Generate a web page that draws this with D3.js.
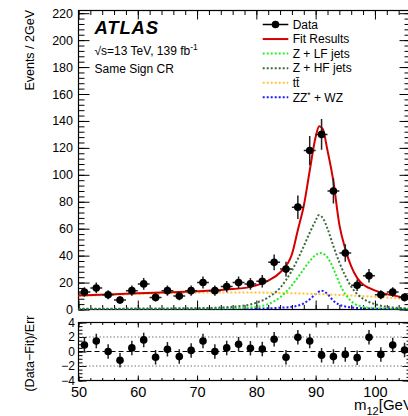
<!DOCTYPE html>
<html>
<head>
<meta charset="utf-8">
<script src="https://cdn.jsdelivr.net/npm/d3@7"></script>
<style>
  html, body { margin: 0; padding: 0; background: #fff; }
  svg { display: block; }
  text { font-family: "Liberation Sans", Arial, Helvetica, sans-serif; fill: #000; }
</style>
</head>
<body>
<svg id="chart" width="408" height="416"></svg>
<script>
// ---- measured data: dilepton mass bins (2 GeV wide) ----
const binCentres = [51, 53, 55, 57, 59, 61, 63, 65, 67, 69, 71, 73, 75, 77,
                    79, 81, 83, 85, 87, 89, 91, 93, 95, 97, 99, 101, 103, 105];
const eventCounts = [13, 16, 11, 7, 14, 19, 9, 14, 10, 14, 20, 14, 17, 20,
                     19, 21, 35, 30, 76, 118, 130, 88, 42, 18, 25, 11, 13, 9];
const pulls = [0.9, 1.45, 0.0, -1.2, 0.5, 1.6, -0.8, 0.3, -0.7, 0.15, 1.45, 0.0, 0.5, 1.0,
               0.45, 0.35, 1.7, -0.8, 1.95, 1.45, -0.5, -0.7, -0.4, -0.85, 1.95, -0.4, 0.9, 0.2];

// ---- fitted model and its components, sampled along m12 ----
const fitMass   = [50, 55, 60, 65, 70, 75, 79, 82, 84, 86, 87, 88, 89, 90, 90.6, 91.2, 92, 93, 94, 95, 96, 97, 98, 99, 101, 103, 106];
const fitValues = [10.4, 11.2, 12.0, 12.8, 13.5, 14.8, 16.8, 21.5, 27.5, 41, 59, 77, 103, 128, 136, 134, 118, 95, 63, 45, 32, 23.5, 18.5, 16, 12.5, 10.5, 8];

const ttMass   = [50, 55, 60, 65, 70, 75, 80, 85, 90, 95, 100, 106];
const ttValues = [10.1, 10.8, 11.5, 12.1, 12.5, 12.7, 12.6, 12.2, 11.5, 10.6, 9.4, 7.6];

const lfMass   = [50, 60, 70, 76, 80, 82, 84, 86, 88, 89, 90, 90.8, 91.6, 92.5, 93.5, 94.5, 95.5, 96.5, 98, 100, 106];
const lfValues = [0.3, 0.4, 0.6, 0.9, 2.0, 4.0, 9, 18, 30, 36, 40.5, 42, 40.5, 35, 25, 15, 8.5, 4.5, 2, 1, 0.4];

const hfMass   = [50, 60, 70, 76, 80, 82, 84, 86, 88, 89, 90, 90.5, 91.2, 92, 93, 94, 95, 96, 97, 98, 100, 102, 106];
const hfValues = [0.5, 0.7, 1.0, 2.0, 5, 9, 16, 29, 47, 57, 66, 70, 68, 60, 47, 35, 25, 17, 11.5, 8, 4, 2, 0.8];

const dbMass   = [50, 70, 80, 84, 86, 88, 89, 90, 91, 92, 93, 94, 95, 97, 100, 106];
const dbValues = [0.3, 0.4, 0.7, 1.3, 2, 4.5, 7.5, 11.5, 14, 11.5, 6.5, 3.5, 2.2, 1.2, 0.6, 0.3];

// ---- axis ticks ----
const xMajorTicks = [50, 60, 70, 80, 90, 100];
const yMajorTicks = [0, 20, 40, 60, 80, 100, 120, 140, 160, 180, 200, 220];
const pullTicks   = [-4, -2, 0, 2, 4];

// ---- legend entries ----
const legendLabels = ["Data", "Fit Results", "Z + LF jets", "Z + HF jets", "tt\u0304", "ZZ* + WZ"];

// ---------------------------------------------------------------
const svg = d3.select("#chart");
const FONT = '"Liberation Sans", Arial, Helvetica, sans-serif';

const L = 78.5, R = 410.5;
const T1 = 10.5, B1 = 309.5;     // main pad
const T2 = 322.5, B2 = 380.5;    // pull pad

const x  = d3.scaleLinear().domain([50, 106]).range([L, R]);
const y  = d3.scaleLinear().domain([0, 222]).range([B1, T1]);
const yp = d3.scaleLinear().domain([-4, 4]).range([B2, T2]);

const range = (a, b, s) => d3.range(a, b + s / 2, s);

// clip paths for both pads
const defs = svg.append("defs");
defs.append("clipPath").attr("id", "mainClip")
  .append("rect").attr("x", L).attr("y", T1).attr("width", R - L).attr("height", B1 - T1);
defs.append("clipPath").attr("id", "pullClip")
  .append("rect").attr("x", L).attr("y", T2).attr("width", R - L).attr("height", B2 - T2);

function styleAxis(g, fontSize) {
  g.select(".domain").remove();
  g.selectAll(".tick line").attr("stroke", "#000").attr("stroke-width", 1);
  g.selectAll(".tick text").attr("font-family", FONT).attr("font-size", fontSize).attr("fill", "#000");
}

function addAxis(axis, tx, ty, fontSize) {
  const g = svg.append("g").attr("transform", `translate(${tx},${ty})`).call(axis);
  styleAxis(g, fontSize || 12);
  return g;
}

// ---------------- main pad ----------------
// minor ticks
addAxis(d3.axisBottom(x).tickValues(range(50, 106, 2)).tickSizeInner(-4.5).tickSizeOuter(0).tickFormat(""), 0, B1);
addAxis(d3.axisTop(x).tickValues(range(50, 106, 2)).tickSizeInner(-4.5).tickSizeOuter(0).tickFormat(""), 0, T1);
addAxis(d3.axisLeft(y).tickValues(range(0, 220, 4)).tickSizeInner(-6).tickSizeOuter(0).tickFormat(""), L, 0);
addAxis(d3.axisRight(y).tickValues(range(0, 220, 4)).tickSizeInner(-6).tickSizeOuter(0).tickFormat(""), R, 0);
// major ticks
addAxis(d3.axisBottom(x).tickValues(xMajorTicks).tickSizeInner(-9).tickSizeOuter(0).tickFormat(""), 0, B1);
addAxis(d3.axisTop(x).tickValues(xMajorTicks).tickSizeInner(-9).tickSizeOuter(0).tickFormat(""), 0, T1);
addAxis(d3.axisLeft(y).tickValues(yMajorTicks).tickSizeInner(-11).tickSizeOuter(0).tickPadding(5.5).tickFormat(d3.format("d")), L, 0, "12.5px");
addAxis(d3.axisRight(y).tickValues(yMajorTicks).tickSizeInner(-11).tickSizeOuter(0).tickFormat(""), R, 0);

svg.append("rect").attr("x", L).attr("y", T1).attr("width", R - L).attr("height", B1 - T1)
  .attr("fill", "none").attr("stroke", "#000").attr("stroke-width", 1.2);

// model curves
const mainLayer = svg.append("g").attr("clip-path", "url(#mainClip)");
function drawCurve(xs, vs, colour, width, dash) {
  const pts = xs.map((m, i) => [m, vs[i]]);
  const line = d3.line().x(d => x(d[0])).y(d => y(d[1])).curve(d3.curveMonotoneX);
  mainLayer.append("path").attr("d", line(pts))
    .attr("fill", "none").attr("stroke", colour).attr("stroke-width", width)
    .attr("stroke-dasharray", dash || null);
}
const COL = { fit: "#d40000", lf: "#22ee22", hf: "#3d6b3d", tt: "#ffc23a", db: "#1a1aff" };
drawCurve(dbMass, dbValues, COL.db, 2, "2,2");
drawCurve(ttMass, ttValues, COL.tt, 2, "2,2");
drawCurve(lfMass, lfValues, COL.lf, 2, "2,2");
drawCurve(hfMass, hfValues, COL.hf, 2, "2,2");
drawCurve(fitMass, fitValues, COL.fit, 2);

// data points with Poisson error bars
const dataG = mainLayer.append("g");
binCentres.forEach((m, i) => {
  const n = eventCounts[i], e = Math.sqrt(n);
  dataG.append("line").attr("x1", x(m - 1)).attr("x2", x(m + 1)).attr("y1", y(n)).attr("y2", y(n))
    .attr("stroke", "#222").attr("stroke-width", 1.5);
  dataG.append("line").attr("x1", x(m)).attr("x2", x(m)).attr("y1", y(n - e)).attr("y2", y(n + e))
    .attr("stroke", "#222").attr("stroke-width", 1.5);
  dataG.append("circle").attr("cx", x(m)).attr("cy", y(n)).attr("r", 3.8).attr("fill", "#000");
});

// ---------------- pull pad ----------------
addAxis(d3.axisBottom(x).tickValues(range(50, 106, 2)).tickSizeInner(-2.5).tickSizeOuter(0).tickFormat(""), 0, B2);
addAxis(d3.axisTop(x).tickValues(range(50, 106, 2)).tickSizeInner(-2.5).tickSizeOuter(0).tickFormat(""), 0, T2);
addAxis(d3.axisBottom(x).tickValues(xMajorTicks).tickSizeInner(-5).tickSizeOuter(0).tickPadding(6).tickFormat(d3.format("d")), 0, B2, "14.5px");
addAxis(d3.axisTop(x).tickValues(xMajorTicks).tickSizeInner(-5).tickSizeOuter(0).tickFormat(""), 0, T2);
addAxis(d3.axisLeft(yp).tickValues(range(-4, 4, 0.5)).tickSizeInner(-4).tickSizeOuter(0).tickFormat(""), L, 0);
addAxis(d3.axisRight(yp).tickValues(range(-4, 4, 0.5)).tickSizeInner(-4).tickSizeOuter(0).tickFormat(""), R, 0);
addAxis(d3.axisLeft(yp).tickValues(pullTicks).tickSizeInner(-8).tickSizeOuter(0).tickPadding(3.5).tickFormat(d3.format("d")), L, 0, "12px");
addAxis(d3.axisRight(yp).tickValues(pullTicks).tickSizeInner(-8).tickSizeOuter(0).tickFormat(""), R, 0);

svg.append("rect").attr("x", L).attr("y", T2).attr("width", R - L).attr("height", B2 - T2)
  .attr("fill", "none").attr("stroke", "#000").attr("stroke-width", 1.2);

const pullLayer = svg.append("g").attr("clip-path", "url(#pullClip)");
[-2, 2].forEach(v => pullLayer.append("line")
  .attr("x1", L).attr("x2", R).attr("y1", yp(v)).attr("y2", yp(v))
  .attr("stroke", "#777").attr("stroke-width", 1).attr("stroke-dasharray", "1.5,2"));
pullLayer.append("line").attr("x1", L).attr("x2", R).attr("y1", yp(0)).attr("y2", yp(0))
  .attr("stroke", "#000").attr("stroke-width", 1.2).attr("stroke-dasharray", "5,3");

binCentres.forEach((m, i) => {
  const p = pulls[i];
  pullLayer.append("line").attr("x1", x(m)).attr("x2", x(m)).attr("y1", yp(p - 1)).attr("y2", yp(p + 1))
    .attr("stroke", "#222").attr("stroke-width", 1.5);
  pullLayer.append("circle").attr("cx", x(m)).attr("cy", yp(p)).attr("r", 3.8).attr("fill", "#000");
});

// ---------------- titles ----------------
svg.append("text").attr("transform", "translate(34,10) rotate(-90)")
  .attr("text-anchor", "end").attr("font-size", "12.5px").text("Events / 2GeV");
svg.append("text").attr("transform", "translate(34,315.5) rotate(-90)")
  .attr("text-anchor", "end").attr("font-size", "12.5px").text("(Data\u2212Fit)/Err");

const xt = svg.append("text").attr("x", 354).attr("y", 410).attr("font-size", "15px");
xt.append("tspan").text("m");
xt.append("tspan").attr("font-size", "11px").attr("dy", 4.5).text("12");
xt.append("tspan").attr("dy", -4.5).text("[GeV]");

// ATLAS label block
svg.append("text").attr("x", 94.5).attr("y", 34).attr("font-size", "18.5px")
  .attr("font-weight", "bold").attr("font-style", "italic").attr("letter-spacing", "0.8px").text("ATLAS");
const en = svg.append("text").attr("x", 94.5).attr("y", 55.3).attr("font-size", "12px");
en.append("tspan").text("\u221As=13 TeV, 139 fb");
en.append("tspan").attr("font-size", "8.5px").attr("dy", -5).text("-1");
svg.append("text").attr("x", 94.5).attr("y", 72.7).attr("font-size", "12px").text("Same Sign CR");

// ---------------- legend ----------------
const legend = svg.append("g");
const lx0 = 262.7, lx1 = 288.3, ltx = 292.7, ly0 = 24.5, ldy = 14.55;
const legendStyles = [
  { colour: "#000", dash: null, marker: true },
  { colour: COL.fit, dash: null },
  { colour: COL.lf, dash: "2,2" },
  { colour: COL.hf, dash: "2,2" },
  { colour: COL.tt, dash: "2,2" },
  { colour: COL.db, dash: "2,2" }
];
legendLabels.forEach((lab, i) => {
  const yy = ly0 + i * ldy, st = legendStyles[i];
  legend.append("line").attr("x1", lx0).attr("x2", lx1).attr("y1", yy).attr("y2", yy)
    .attr("stroke", st.colour).attr("stroke-width", st.marker ? 1.5 : 2)
    .attr("stroke-dasharray", st.dash);
  if (st.marker) legend.append("circle").attr("cx", (lx0 + lx1) / 2).attr("cy", yy).attr("r", 3.8).attr("fill", "#000");
  const t = legend.append("text").attr("x", ltx).attr("y", yy + 4.3).attr("font-size", "12px");
  if (lab.startsWith("ZZ*")) {
    t.append("tspan").text("ZZ");
    t.append("tspan").attr("font-size", "8.5px").attr("dy", -4).text("*");
    t.append("tspan").attr("dy", 4).text(" + WZ");
  } else {
    t.text(lab);
  }
});
</script>
</body>
</html>
